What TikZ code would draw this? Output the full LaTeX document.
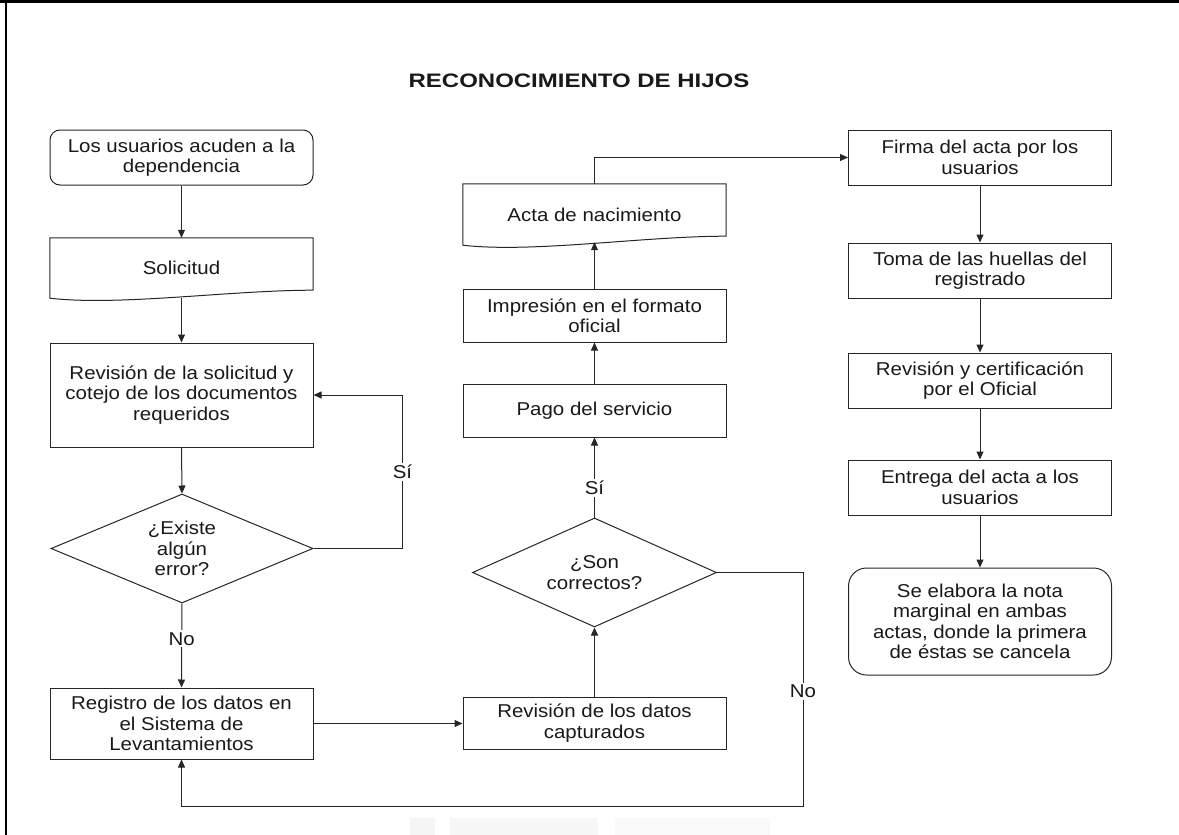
\documentclass[tikz,border=0pt]{standalone}
\usepackage{fontspec}
\setmainfont{Liberation Sans}[FakeStretch=1.1]
\newfontfamily\titlefont{Liberation Sans}[FakeStretch=1.23]
\usetikzlibrary{arrows.meta,shapes.geometric,calc}

\begin{document}
\begin{tikzpicture}[x=1pt,y=-1pt,
  every node/.style={font=\fontsize{18.6}{20.5}\selectfont, text=black!90},
  boxline/.style={draw=black!85, line width=1pt},
  proc/.style={boxline, rectangle, minimum width=263pt, inner sep=0pt, align=center},
  term/.style={proc, rounded corners=10pt},
  docnode/.style={rectangle, minimum width=263pt, minimum height=60pt, inner sep=0pt, align=center},
  decision/.style={boxline, diamond, inner sep=0pt},
  flow/.style={draw=black!85, line width=1pt, -{Triangle[length=8pt,width=7pt]}},
  lbl/.style={fill=white, inner sep=2pt},
]
\useasboundingbox (0,0) rectangle (1179,835);

% page frame (top and left rules)
\draw[line width=2.6pt, black] (0,1.5) -- (1179,1.5);
\draw[line width=2.6pt, black] (6,0) -- (6,835);

% faint marks along the lower edge
\fill[gray!8] (410,818) rectangle (435,835);
\fill[gray!6] (450,818) rectangle (598,835);
\fill[gray!5] (615,818) rectangle (770,835);

% title
\node[font={\titlefont\fontsize{19.5}{22}\selectfont\bfseries}] (title) at (579,80.5) {RECONOCIMIENTO DE HIJOS};

% left column
\node[term, minimum height=55pt] (n1) at (181.5,157.5) {Los usuarios acuden a la\\dependencia};
\node[docnode] (sol) at (181.5,268) {Solicitud};
\draw[boxline] (sol.north west) -- (sol.north east) -- ([yshift=8pt]sol.south east)
  .. controls ([xshift=180pt,yshift=8pt]sol.south west) and ([xshift=70pt,yshift=-8pt]sol.south west) .. (sol.south west) -- cycle;
\node[proc, minimum height=104pt] (rev1) at (181.5,395) {Revisión de la solicitud y\\cotejo de los documentos\\requeridos};
\node[decision, minimum width=262pt, minimum height=109pt] (dia1) at (182,548.5) {};
\node[align=center] (dia1t) at (dia1) {¿Existe\\algún\\error?};
\node[proc, minimum height=71pt] (reg) at (181.5,723.5) {Registro de los datos en\\el Sistema de\\Levantamientos};

% middle column
\node[proc, minimum height=52pt] (rev2) at (594.5,723) {Revisión de los datos\\capturados};
\node[decision, minimum width=244pt, minimum height=109pt] (dia2) at (594.5,572.5) {};
\node[align=center] (dia2t) at (dia2) {¿Son\\correctos?};
\node[proc, minimum height=53pt] (pago) at (594.5,410.5) {Pago del servicio};
\node[proc, minimum height=53pt] (imp) at (594.5,315.5) {Impresión en el formato\\oficial};
\node[docnode, minimum height=61pt] (acta) at (594.5,214.5) {Acta de nacimiento};
\draw[boxline] (acta.north west) -- (acta.north east) -- ([yshift=9pt]acta.south east)
  .. controls ([xshift=180pt,yshift=9pt]acta.south west) and ([xshift=70pt,yshift=-8pt]acta.south west) .. (acta.south west) -- cycle;

% right column
\node[proc, minimum height=55pt] (firma) at (980,157.5) {Firma del acta por los\\usuarios};
\node[proc, minimum height=55pt] (toma) at (980,270.5) {Toma de las huellas del\\registrado};
\node[proc, minimum height=55pt] (cert) at (980,380.5) {Revisión y certificación\\por el Oficial};
\node[proc, minimum height=55pt] (entrega) at (980,487.5) {Entrega del acta a los\\usuarios};
\node[proc, rounded corners=18pt, minimum height=107pt] (nota) at (980,621.5) {Se elabora la nota\\marginal en ambas\\actas, donde la primera\\de éstas se cancela};

% connectors
\draw[flow] (n1.south) -- (sol.north);
\draw[flow] (sol.south) -- (rev1.north);
\draw[flow] (rev1.south) -- (dia1.north);
\draw[flow] (dia1.east) -- ++(89,0) |- node[lbl, pos=0.25] {Sí} (rev1.east);
\draw[flow] (dia1.south) -- node[lbl, pos=0.42] {No} (reg.north);
\draw[flow] (reg.east) -- (reg.east -| rev2.west);
\draw[flow] (rev2.north) -- (dia2.south);
\draw[flow] (dia2.north) -- node[lbl, pos=0.37] {Sí} (pago.south);
\draw[flow] (pago.north) -- (imp.south);
\draw[flow] (imp.north) -- ([yshift=3pt]acta.south);
\draw[flow] (acta.north) |- (firma.west);
\draw[flow] (firma.south) -- (toma.north);
\draw[flow] (toma.south) -- (cert.north);
\draw[flow] (cert.south) -- (entrega.north);
\draw[flow] (entrega.south) -- (nota.north);
\coordinate (nocorner) at (803,806);
\draw[flow] (dia2.east) -| node[lbl, pos=0.755] {No} (nocorner) -| (reg.south);

\end{tikzpicture}
\end{document}
